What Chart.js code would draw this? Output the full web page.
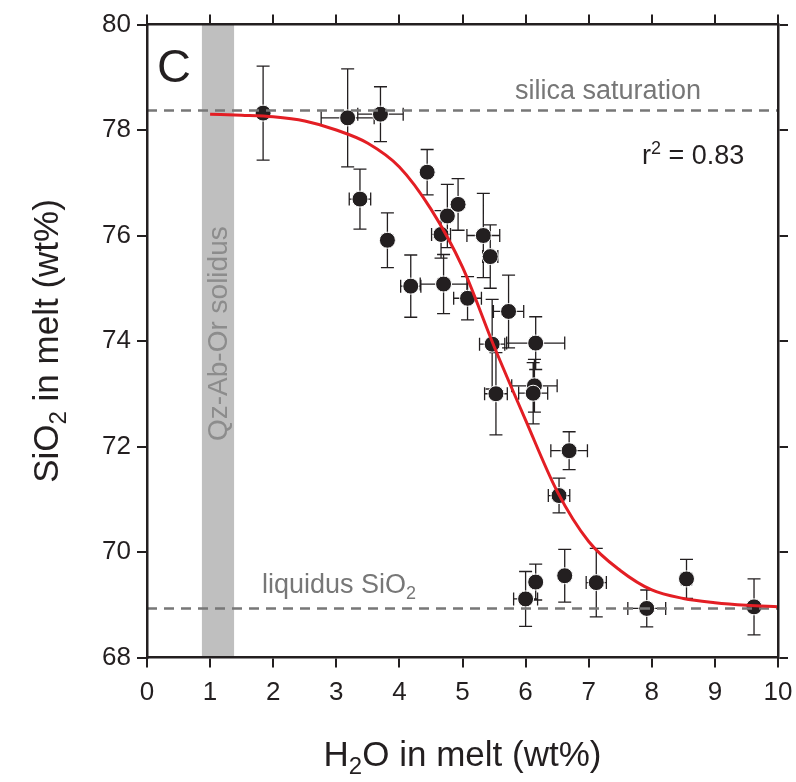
<!DOCTYPE html>
<html>
<head>
<meta charset="utf-8">
<script src="https://cdn.jsdelivr.net/npm/chart.js@4.4.0/dist/chart.umd.min.js"></script>
<style>
  html, body { margin: 0; padding: 0; background: #fff; }
  #wrap { width: 796px; height: 782px; }
</style>
</head>
<body>
<div id="wrap"><canvas id="chart" width="796" height="782"></canvas></div>
<script>
// Melt composition data (panel C)
const h2o = [1.84, 3.18, 3.70, 3.375, 3.81, 4.18, 4.70, 4.44, 4.66, 4.76, 4.93, 5.33, 5.44, 5.08, 5.47,
             5.53, 5.73, 6.16, 6.14, 6.12, 6.69, 6.53, 6.00, 6.16, 6.62, 7.12, 7.92, 8.55, 9.62];
const sio2 = [78.32, 78.23, 78.30, 76.69, 75.91, 75.04, 75.08, 77.20, 76.02, 76.37, 76.59, 76.00, 75.60, 74.81, 73.94,
              73.00, 74.56, 73.96, 73.15, 73.01, 71.92, 71.07, 69.11, 69.43, 69.55, 69.42, 68.93, 69.49, 68.96];
const h2oErr = [0, 0.42, 0.36, 0.17, 0, 0.16, 0.37, 0, 0.15, 0, 0, 0.26, 0.12, 0.22, 0.20,
                0.18, 0.24, 0.46, 0.36, 0.23, 0.29, 0.17, 0.19, 0, 0, 0.16, 0.30, 0.08, 0];
const sio2Err = [0.89, 0.93, 0.52, 0.57, 0.52, 0.59, 0.56, 0.43, 0.45, 0.60, 0.49, 0.80, 0.60, 0.41, 0.85,
                 0.78, 0.69, 0.50, 0.50, 0.58, 0.36, 0.33, 0.52, 0.34, 0.50, 0.65, 0.35, 0.37, 0.53];

// Fitted curve (red), sampled from the figure
const fitH2o = [1.0, 1.5, 2.0, 2.5, 3.0, 3.5, 4.0, 4.5, 5.0, 5.5, 6.0, 6.5, 7.0, 7.5, 8.0, 8.5, 9.0, 9.5, 10.0];
const fitSio2 = [78.30, 78.28, 78.25, 78.17, 78.00, 77.75, 77.30, 76.50, 75.40, 73.90, 72.50, 71.15, 70.20,
                 69.65, 69.28, 69.12, 69.04, 68.99, 68.96];

// Reference levels
const silicaSaturation = 78.37;
const liquidusSio2 = 68.93;
const solidusBand = [0.87, 1.38];

// Axes
const xTicks = [0, 1, 2, 3, 4, 5, 6, 7, 8, 9, 10];
const yTicks = [68, 70, 72, 74, 76, 78, 80];

const INK = '#231f20';
const GREY = '#777777';
const FONT = "'Liberation Sans', Arial, Helvetica, sans-serif";

const samples = h2o.map((x, i) => ({ x: x, y: sio2[i] }));
const fitLine = fitH2o.map((x, i) => ({ x: x, y: fitSio2[i] }));

// Draw text made of parts, some of them subscript/superscript
function drawParts(ctx, parts, x, y, size, align) {
    const subSize = Math.round(size * 0.68);
    let width = 0;
    parts.forEach(p => {
        ctx.font = (p.sub || p.sup ? subSize : size) + 'px ' + FONT;
        p.w = ctx.measureText(p.t).width;
        width += p.w;
    });
    let cx = align === 'center' ? x - width / 2 : x;
    ctx.textAlign = 'left';
    ctx.textBaseline = 'alphabetic';
    parts.forEach(p => {
        ctx.font = (p.sub || p.sup ? subSize : size) + 'px ' + FONT;
        let dy = 0;
        if (p.sub) dy = size * 0.22;
        if (p.sup) dy = -size * 0.36;
        ctx.fillText(p.t, cx, y + dy);
        cx += p.w;
    });
}

const errorBars = {
    id: 'errorBars',
    beforeDatasetDraw(chart, args) {
        if (chart.data.datasets[args.index].label !== 'samples') return;
        const ctx = chart.ctx;
        const xs = chart.scales.x, ys = chart.scales.y;
        const cap = 6.5;
        ctx.save();
        ctx.strokeStyle = INK;
        ctx.lineWidth = 1.3;
        ctx.beginPath();
        h2o.forEach((x, i) => {
            const px = xs.getPixelForValue(x);
            const py = ys.getPixelForValue(sio2[i]);
            if (sio2Err[i] > 0) {
                const y1 = ys.getPixelForValue(sio2[i] + sio2Err[i]);
                const y2 = ys.getPixelForValue(sio2[i] - sio2Err[i]);
                ctx.moveTo(px, y1); ctx.lineTo(px, y2);
                ctx.moveTo(px - cap, y1); ctx.lineTo(px + cap, y1);
                ctx.moveTo(px - cap, y2); ctx.lineTo(px + cap, y2);
            }
            if (h2oErr[i] > 0) {
                const x1 = xs.getPixelForValue(x - h2oErr[i]);
                const x2 = xs.getPixelForValue(x + h2oErr[i]);
                ctx.moveTo(x1, py); ctx.lineTo(x2, py);
                ctx.moveTo(x1, py - cap); ctx.lineTo(x1, py + cap);
                ctx.moveTo(x2, py - cap); ctx.lineTo(x2, py + cap);
            }
        });
        ctx.stroke();
        ctx.restore();
    }
};

const decorations = {
    id: 'decorations',
    beforeDatasetsDraw(chart) {
        const ctx = chart.ctx;
        const xs = chart.scales.x, area = chart.chartArea;
        const b0 = xs.getPixelForValue(solidusBand[0]);
        const b1 = xs.getPixelForValue(solidusBand[1]);
        ctx.save();
        ctx.fillStyle = '#bfbfbf';
        ctx.fillRect(b0, area.top, b1 - b0, area.bottom - area.top);
        // band label, reading bottom to top
        ctx.translate((b0 + b1) / 2 + 9, 441);
        ctx.rotate(-Math.PI / 2);
        ctx.fillStyle = '#8c8c8c';
        ctx.font = '28px ' + FONT;
        ctx.textAlign = 'left';
        ctx.textBaseline = 'alphabetic';
        ctx.fillText('Qz-Ab-Or solidus', 0, 0);
        ctx.restore();
    },
    afterDatasetsDraw(chart) {
        const ctx = chart.ctx;
        ctx.save();
        ctx.fillStyle = GREY;
        drawParts(ctx, [{ t: 'silica saturation' }], 515, 99, 27, 'left');
        drawParts(ctx, [{ t: 'liquidus SiO' }, { t: '2', sub: true }], 262, 593, 27, 'left');
        ctx.fillStyle = INK;
        drawParts(ctx, [{ t: 'r' }, { t: '2', sup: true }, { t: ' = 0.83' }], 642, 164, 27, 'left');
        ctx.font = '47px ' + FONT;
        ctx.textAlign = 'left';
        ctx.fillText('C', 157, 82);
        ctx.restore();
    },
    afterDraw(chart) {
        const ctx = chart.ctx;
        const area = chart.chartArea;
        ctx.save();
        ctx.fillStyle = INK;
        drawParts(ctx, [{ t: 'H' }, { t: '2', sub: true }, { t: 'O in melt (wt%)' }],
                  (area.left + area.right) / 2, 766, 35, 'center');
        ctx.translate(58, (area.top + area.bottom) / 2);
        ctx.rotate(-Math.PI / 2);
        drawParts(ctx, [{ t: 'SiO' }, { t: '2', sub: true }, { t: ' in melt (wt%)' }], 0, 0, 35, 'center');
        ctx.restore();
    }
};

function axis(position, min, max, ticks, size, showLabels) {
    return {
        type: 'linear',
        position: position,
        min: min,
        max: max,
        afterBuildTicks: s => { s.ticks = ticks.map(v => ({ value: v })); },
        afterFit: s => {
            if (position === 'left' || position === 'right') s.width = size;
            else s.height = size;
            s.paddingLeft = 0; s.paddingRight = 0;
            s.paddingTop = 0; s.paddingBottom = 0;
        },
        grid: { drawOnChartArea: false, color: INK, lineWidth: 2, tickLength: 10 },
        border: { display: true, color: INK, width: 2.5, z: 1 },
        ticks: {
            display: showLabels,
            color: INK,
            padding: position === 'bottom' ? 10 : 6,
            font: { family: FONT, size: 26 }
        }
    };
}

new Chart(document.getElementById('chart'), {
    type: 'scatter',
    data: {
        datasets: [
            {
                label: 'fit',
                data: fitLine,
                showLine: true,
                borderColor: '#e31e24',
                borderWidth: 3,
                pointRadius: 0,
                cubicInterpolationMode: 'monotone',
                order: 0
            },
            {
                label: 'silica saturation',
                data: [{ x: 0, y: silicaSaturation }, { x: 10, y: silicaSaturation }],
                showLine: true,
                borderColor: GREY,
                borderWidth: 2.5,
                borderDash: [10, 7],
                pointRadius: 0,
                order: 1
            },
            {
                label: 'liquidus',
                data: [{ x: 0, y: liquidusSio2 }, { x: 10, y: liquidusSio2 }],
                showLine: true,
                borderColor: GREY,
                borderWidth: 2.5,
                borderDash: [10, 7],
                pointRadius: 0,
                order: 1
            },
            {
                label: 'samples',
                data: samples,
                pointRadius: 8,
                pointBackgroundColor: INK,
                pointBorderColor: '#ffffff',
                pointBorderWidth: 1,
                order: 2
            }
        ]
    },
    options: {
        responsive: false,
        devicePixelRatio: 1,
        animation: false,
        events: [],
        layout: { padding: 0 },
        plugins: { legend: { display: false }, tooltip: { enabled: false } },
        scales: {
            x: axis('bottom', 0, 10, xTicks, 124.5, true),
            y: axis('left', 68, 80, yTicks, 147, true),
            xTop: axis('top', 0, 10, xTicks, 24.5, false),
            yRight: axis('right', 68, 80, yTicks, 18, false)
        }
    },
    plugins: [errorBars, decorations]
});
</script>
</body>
</html>
